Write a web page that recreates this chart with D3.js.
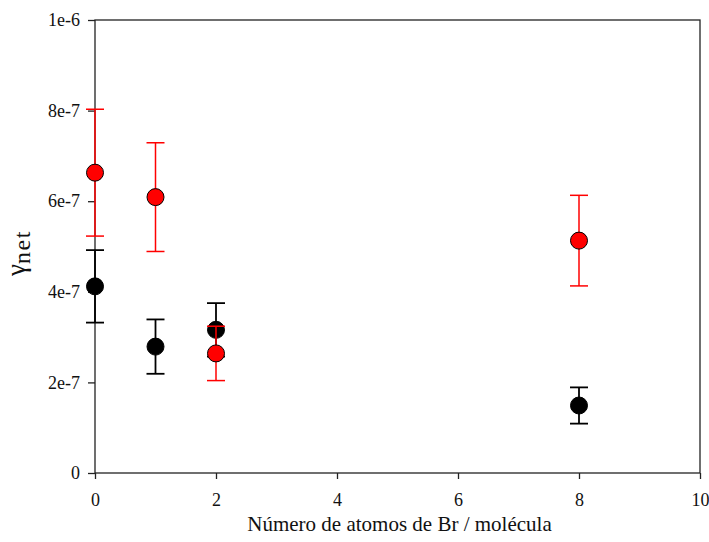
<!DOCTYPE html>
<html><head><meta charset="utf-8">
<script src="https://cdn.jsdelivr.net/npm/d3@7"></script>
<style>body{margin:0;background:#fff}svg{display:block}svg text{font-family:"Liberation Serif","DejaVu Serif",serif !important}</style>
</head><body>
<svg id="c" width="709" height="542"></svg>
<script>
const xValues = [0, 1, 2, 8];
const redY    = [6.63e-7, 6.09e-7, 2.64e-7, 5.13e-7];
const redErr  = [1.40e-7, 1.20e-7, 0.60e-7, 1.00e-7];
const blackY  = [4.12e-7, 2.79e-7, 3.16e-7, 1.49e-7];
const blackErr= [0.80e-7, 0.60e-7, 0.59e-7, 0.40e-7];
const xTicks = [0, 2, 4, 6, 8, 10];
const yTicks = [0, 2e-7, 4e-7, 6e-7, 8e-7, 1e-6];
const yTickLabels = ["0", "2e-7", "4e-7", "6e-7", "8e-7", "1e-6"];

const FONT = '"Liberation Serif", "DejaVu Serif", serif';
const svg = d3.select("#c");
const L = 95, R = 700, T = 20, B = 473;
const x = d3.scaleLinear().domain([0, 10]).range([L, R]);
const y = d3.scaleLinear().domain([0, 1e-6]).range([B, T]);

svg.append("rect").attr("x", L).attr("y", T).attr("width", R - L).attr("height", B - T)
  .attr("fill", "none").attr("stroke", "#222").attr("stroke-width", 1.3);

const xa = svg.append("g").attr("transform", `translate(0,${B})`)
  .call(d3.axisBottom(x).tickValues(xTicks).tickSize(6).tickPadding(14).tickFormat(d3.format("d")));
const ya = svg.append("g").attr("transform", `translate(${L},0)`)
  .call(d3.axisLeft(y).tickValues(yTicks).tickSize(7).tickPadding(8).tickFormat((d, i) => yTickLabels[i]));
[xa, ya].forEach(a => {
  a.attr("font-family", FONT).attr("font-size", 18);
  a.select(".domain").remove();
  a.selectAll("line").attr("stroke", "#222").attr("stroke-width", 1.3);
  a.selectAll("text").attr("fill", "#111").style("font-size", "18px");
});

function series(vals, errs, color, lw) {
  const g = svg.append("g");
  const cap = 9;
  xValues.forEach((xv, i) => {
    const cx = x(xv), top = y(vals[i] + errs[i]), bot = y(vals[i] - errs[i]);
    g.append("line").attr("x1", cx).attr("x2", cx).attr("y1", top).attr("y2", bot)
      .attr("stroke", color).attr("stroke-width", lw);
    [top, bot].forEach(yy => g.append("line").attr("x1", cx - cap).attr("x2", cx + cap)
      .attr("y1", yy).attr("y2", yy).attr("stroke", color).attr("stroke-width", lw));
  });
  xValues.forEach((xv, i) => {
    g.append("circle").attr("cx", x(xv)).attr("cy", y(vals[i])).attr("r", 8.5)
      .attr("fill", color).attr("stroke", "#000").attr("stroke-width", 1);
  });
}
series(blackY, blackErr, "#000", 1.8);
series(redY, redErr, "#ff0000", 1.5);

svg.append("text").attr("x", (L + R) / 2 + 2).attr("y", 531).attr("text-anchor", "middle")
  .attr("font-family", FONT).attr("font-size", 21).attr("fill", "#111").text("Número de atomos de Br / molécula");

const yl = svg.append("text").attr("transform", "translate(25,253) rotate(-90)")
  .attr("text-anchor", "middle").attr("font-family", FONT).attr("font-size", 27).attr("fill", "#111");
yl.append("tspan").text("γ");
yl.append("tspan").attr("dy", 5).attr("font-size", 24).attr("letter-spacing", 1.5).text("net");
</script>
</body></html>
